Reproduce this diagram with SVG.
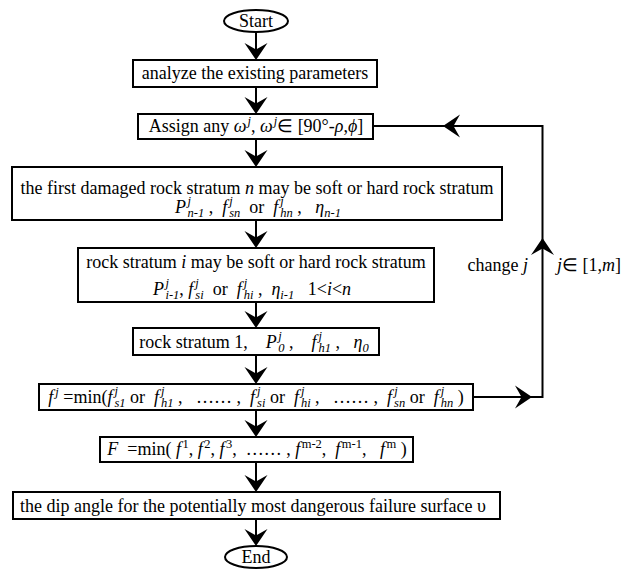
<svg xmlns="http://www.w3.org/2000/svg" xmlns:xlink="http://www.w3.org/1999/xlink" width="623" height="570" viewBox="0 0 623 570">
<style>
.box{fill:#fff;stroke:#000;stroke-width:2}
.ln{fill:none;stroke:#000;stroke-width:2}
.t{font-family:"Liberation Serif","Times New Roman",serif;font-size:18px;fill:#000;white-space:pre}
.m{text-anchor:middle}
.e{text-anchor:end}
.i{font-style:italic}
.s{font-size:12.5px}
</style>
<defs>
<path id="ah" d="M0,0 L-11.5,-17 L0,-10.5 L11.5,-17 Z" fill="#000"/>
</defs>
<rect width="623" height="570" fill="#fff"/>
<g id="connectors">
<line class="ln" x1="256" y1="32" x2="256" y2="58"/>
<use xlink:href="#ah" transform="translate(256,60)"/>
<line class="ln" x1="256" y1="87" x2="256" y2="112"/>
<use xlink:href="#ah" transform="translate(256,114)"/>
<line class="ln" x1="256" y1="139" x2="256" y2="165"/>
<use xlink:href="#ah" transform="translate(256,167)"/>
<line class="ln" x1="256" y1="220" x2="256" y2="246"/>
<use xlink:href="#ah" transform="translate(256,248)"/>
<line class="ln" x1="256" y1="302" x2="256" y2="326"/>
<use xlink:href="#ah" transform="translate(256,328)"/>
<line class="ln" x1="256" y1="355" x2="256" y2="382"/>
<use xlink:href="#ah" transform="translate(256,384)"/>
<line class="ln" x1="256" y1="410" x2="256" y2="435"/>
<use xlink:href="#ah" transform="translate(256,437)"/>
<line class="ln" x1="256" y1="462" x2="256" y2="490"/>
<use xlink:href="#ah" transform="translate(256,492)"/>
<line class="ln" x1="256" y1="519" x2="256" y2="544"/>
<use xlink:href="#ah" transform="translate(256,546)"/>
<polyline class="ln" points="473,397 542.5,397 542.5,126 373,126"/>
<use xlink:href="#ah" transform="translate(532,397) rotate(-90)"/>
<use xlink:href="#ah" transform="translate(542.5,238) rotate(180)"/>
<use xlink:href="#ah" transform="translate(443,126) rotate(90)"/>
<text class="t e" x="528" y="271">change <tspan class="i">j</tspan></text>
<text class="t" x="557" y="271"><tspan class="i">j</tspan>∈ [1,<tspan class="i">m</tspan>]</text>
</g>
<g id="start">
<ellipse class="box" cx="256" cy="21" rx="32" ry="11"/>
<text class="t m" x="256" y="27">Start</text>
</g>
<g id="analyze">
<rect class="box" x="133" y="60" width="244" height="27"/>
<text class="t m" x="255" y="79">analyze the existing parameters</text>
</g>
<g id="assign">
<rect class="box" x="138" y="114" width="235" height="25"/>
<text class="t m" x="256" y="132">Assign any <tspan class="i">ω</tspan><tspan class="i s" dx="1" dy="-7">j</tspan><tspan dy="7">, </tspan><tspan class="i">ω</tspan><tspan class="i s" dx="1" dy="-7">j</tspan><tspan dy="7">∈ [90°-</tspan><tspan class="i">ρ</tspan>,<tspan class="i">ϕ</tspan>]</text>
</g>
<g id="first-stratum">
<rect class="box" x="12" y="167" width="490" height="53"/>
<text class="t m" x="257" y="194">the first damaged rock stratum <tspan class="i">n</tspan> may be soft or hard rock stratum</text>
<text class="t m" x="258" y="213"><tspan class="i">P</tspan><tspan class="i s" dx="1.5" dy="-8">j</tspan><tspan class="i s" dx="-3.5" dy="12">n-1</tspan><tspan dy="-4"> ,  </tspan><tspan class="i">f</tspan><tspan class="i s" dx="2" dy="-8">j</tspan><tspan class="i s" dx="-3.5" dy="12">sn</tspan><tspan dy="-4">  or  </tspan><tspan class="i">f</tspan><tspan class="i s" dx="2" dy="-8">j</tspan><tspan class="i s" dx="-3.5" dy="12">hn</tspan><tspan dy="-4"> ,   </tspan><tspan class="i">η</tspan><tspan class="i s" dy="4">n-1</tspan></text>
</g>
<g id="stratum-i">
<rect class="box" x="78" y="248" width="356" height="54"/>
<text class="t m" x="256" y="268">rock stratum <tspan class="i">i</tspan> may be soft or hard rock stratum</text>
<text class="t m" x="252" y="295"><tspan class="i">P</tspan><tspan class="i s" dx="1.5" dy="-8">j</tspan><tspan class="i s" dx="-3.5" dy="12">i-1</tspan><tspan dy="-4">, </tspan><tspan class="i">f</tspan><tspan class="i s" dx="2" dy="-8">j</tspan><tspan class="i s" dx="-3.5" dy="12">si</tspan><tspan dy="-4">  or  </tspan><tspan class="i">f</tspan><tspan class="i s" dx="2" dy="-8">j</tspan><tspan class="i s" dx="-3.5" dy="12">hi</tspan><tspan dy="-4"> ,  </tspan><tspan class="i">η</tspan><tspan class="i s" dy="4">i-1</tspan><tspan dy="-4">   1&lt;</tspan><tspan class="i">i</tspan>&lt;<tspan class="i">n</tspan></text>
</g>
<g id="stratum-1">
<rect class="box" x="133" y="328" width="246" height="27"/>
<text class="t m" x="254" y="348">rock stratum 1,    <tspan class="i">P</tspan><tspan class="i s" dx="1.5" dy="-8">j</tspan><tspan class="i s" dx="-3.5" dy="12">0</tspan><tspan dy="-4"> ,    </tspan><tspan class="i">f</tspan><tspan class="i s" dx="2" dy="-8">j</tspan><tspan class="i s" dx="-3.5" dy="12">h1</tspan><tspan dy="-4"> ,   </tspan><tspan class="i">η</tspan><tspan class="i s" dy="4">0</tspan></text>
</g>
<g id="fj">
<rect class="box" x="39" y="384" width="434" height="26"/>
<text class="t m" x="256" y="403"><tspan class="i">f</tspan><tspan class="i s" dx="2" dy="-7">j</tspan><tspan dy="7"> =min(</tspan><tspan class="i">f</tspan><tspan class="i s" dx="2" dy="-8">j</tspan><tspan class="i s" dx="-3.5" dy="12">s1</tspan><tspan dy="-4"> or  </tspan><tspan class="i">f</tspan><tspan class="i s" dx="2" dy="-8">j</tspan><tspan class="i s" dx="-3.5" dy="12">h1</tspan><tspan dy="-4"> ,   …… ,  </tspan><tspan class="i">f</tspan><tspan class="i s" dx="2" dy="-8">j</tspan><tspan class="i s" dx="-3.5" dy="12">si</tspan><tspan dy="-4"> or  </tspan><tspan class="i">f</tspan><tspan class="i s" dx="2" dy="-8">j</tspan><tspan class="i s" dx="-3.5" dy="12">hi</tspan><tspan dy="-4"> ,   …… ,  </tspan><tspan class="i">f</tspan><tspan class="i s" dx="2" dy="-8">j</tspan><tspan class="i s" dx="-3.5" dy="12">sn</tspan><tspan dy="-4"> or  </tspan><tspan class="i">f</tspan><tspan class="i s" dx="2" dy="-8">j</tspan><tspan class="i s" dx="-3.5" dy="12">hn</tspan><tspan dy="-4"> )</tspan></text>
</g>
<g id="F">
<rect class="box" x="100" y="437" width="313" height="25"/>
<text class="t m" x="257" y="455"><tspan class="i">F</tspan>  =min( <tspan class="i">f</tspan><tspan class="s" dx="1.5" dy="-7">1</tspan><tspan dy="7">, </tspan><tspan class="i">f</tspan><tspan class="s" dx="1.5" dy="-7">2</tspan><tspan dy="7">, </tspan><tspan class="i">f</tspan><tspan class="s" dx="1.5" dy="-7">3</tspan><tspan dy="7">,  …… , </tspan><tspan class="i">f</tspan><tspan class="s" dx="1.5" dy="-7">m-2</tspan><tspan dy="7">,  </tspan><tspan class="i">f</tspan><tspan class="s" dx="1.5" dy="-7">m-1</tspan><tspan dy="7">,   </tspan><tspan class="i">f</tspan><tspan class="s" dx="1.5" dy="-7">m</tspan><tspan dy="7"> )</tspan></text>
</g>
<g id="dip">
<rect class="box" x="13" y="492" width="487" height="27"/>
<text class="t m" x="253" y="512">the dip angle for the potentially most dangerous failure surface υ</text>
</g>
<g id="end">
<ellipse class="box" cx="256" cy="557" rx="31" ry="11"/>
<text class="t m" x="256" y="563">End</text>
</g>
</svg>
